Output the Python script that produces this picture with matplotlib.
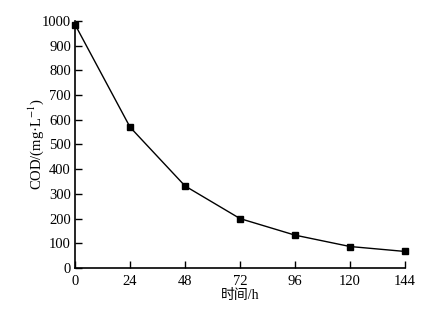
import matplotlib
matplotlib.use("Agg")
import matplotlib.pyplot as plt

# COD vs time
hours = [0, 24, 48, 72, 96, 120, 144]
cod = [985, 570, 332, 200, 133, 87, 67]
xticks = [0, 24, 48, 72, 96, 120, 144]
yticks = list(range(0, 1001, 100))

plt.rcParams['font.family'] = ['Liberation Serif', 'Noto Sans CJK SC']
plt.rcParams['mathtext.fontset'] = 'stix'
plt.rcParams['font.size'] = 10.5

fig = plt.figure(figsize=(4.29, 3.12), dpi=100)
ax = fig.add_axes([0.175, 0.141, 0.769, 0.792])

ax.plot(hours, cod, color='black', lw=1.0, marker='s', ms=4.2, clip_on=False)

ax.set_xlim(0, 144)
ax.set_ylim(0, 1000)
ax.set_xticks(xticks)
ax.set_yticks(yticks)
ax.tick_params(direction='in', length=5, width=1, pad=3)
ax.tick_params(axis='x', pad=5)
for s in ['top', 'right']:
    ax.spines[s].set_visible(False)
for s in ['left', 'bottom']:
    ax.spines[s].set_linewidth(1.2)

ax.set_xlabel('时间/h', fontsize=10, va='center')
ax.set_ylabel('COD/(mg·L$^{-1}$)', va='center')
ax.yaxis.set_label_coords(-0.118, 0.5)
ax.xaxis.set_label_coords(0.5, -0.113)

fig.savefig('out.png', dpi=100)
